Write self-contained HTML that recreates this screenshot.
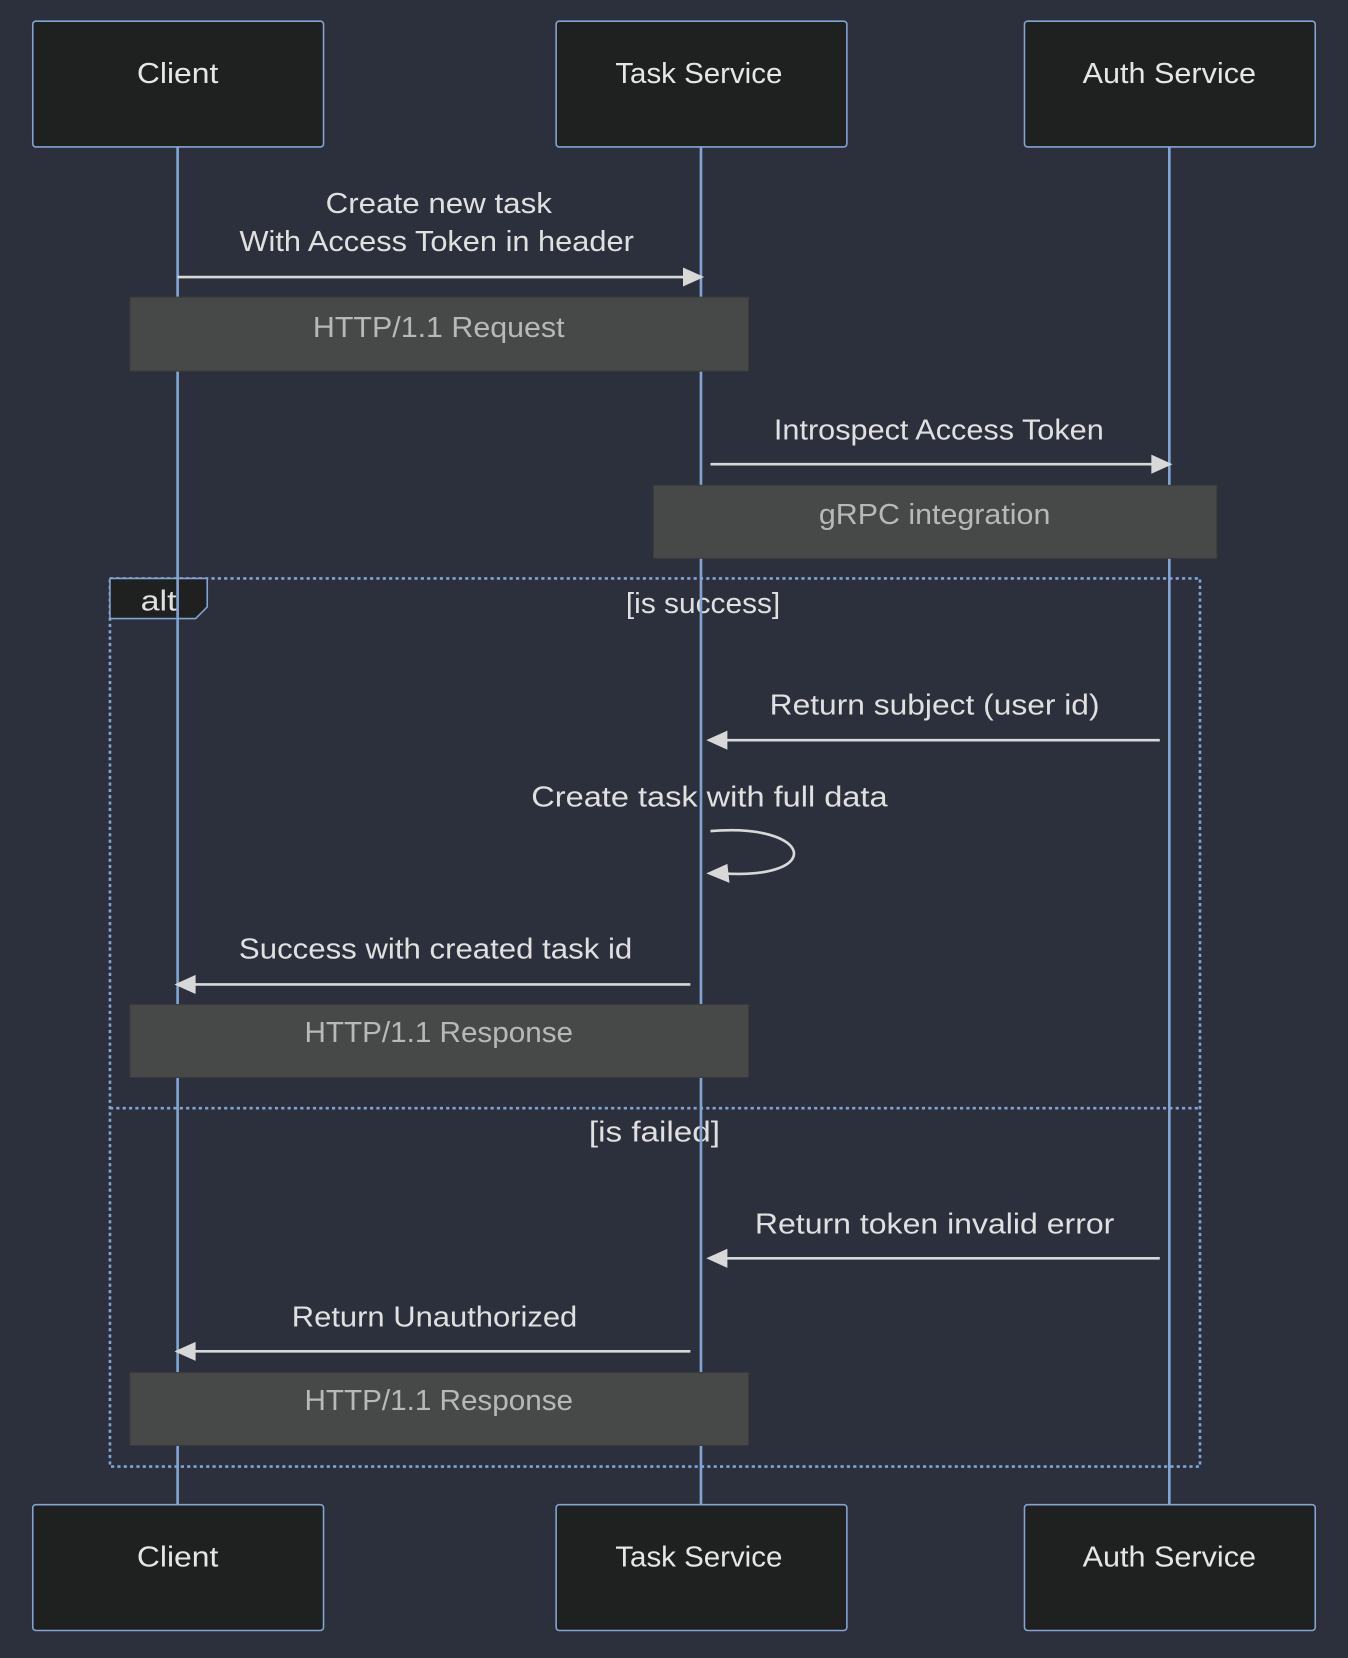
<!DOCTYPE html>
<html><head><meta charset="utf-8"><style>
html,body{margin:0;padding:0;background:#2c303c;}
svg{display:block;}
text{font-family:"Liberation Sans","DejaVu Sans",sans-serif;}
</style></head><body>
<svg width="1348" height="1658" viewBox="0 0 1275 1568" preserveAspectRatio="none" xmlns="http://www.w3.org/2000/svg">
<rect x="0" y="0" width="1275" height="1568" fill="#2c303c"/>
<g fill="#1f2020" stroke="#81a4d4" stroke-width="1.5">
<rect x="31" y="20" width="275" height="119" rx="3"/>
<rect x="526" y="20" width="275" height="119" rx="3"/>
<rect x="969" y="20" width="275" height="119" rx="3"/>
<rect x="31" y="1423" width="275" height="119" rx="3"/>
<rect x="526" y="1423" width="275" height="119" rx="3"/>
<rect x="969" y="1423" width="275" height="119" rx="3"/>
</g>
<g fill="#e6e6e6" font-size="27" text-anchor="middle" dominant-baseline="central" lengthAdjust="spacingAndGlyphs">
<text x="168" y="70" textLength="77" lengthAdjust="spacingAndGlyphs">Client</text><text x="661" y="70" textLength="158" lengthAdjust="spacingAndGlyphs">Task Service</text><text x="1106" y="70" textLength="164" lengthAdjust="spacingAndGlyphs">Auth Service</text>
<text x="168" y="1473" textLength="77" lengthAdjust="spacingAndGlyphs">Client</text><text x="661" y="1473" textLength="158" lengthAdjust="spacingAndGlyphs">Task Service</text><text x="1106" y="1473" textLength="164" lengthAdjust="spacingAndGlyphs">Auth Service</text>
</g>
<g fill="#e0e0e0" font-size="27" text-anchor="middle" dominant-baseline="central">
<text x="415" y="193" textLength="214" lengthAdjust="spacingAndGlyphs">Create new task</text>
<text x="413" y="229" textLength="373" lengthAdjust="spacingAndGlyphs">With Access Token in header</text>
<text x="888" y="407" textLength="312" lengthAdjust="spacingAndGlyphs">Introspect Access Token</text>
<text x="665" y="571" textLength="146" lengthAdjust="spacingAndGlyphs">[is success]</text>
<text x="884" y="667" textLength="312" lengthAdjust="spacingAndGlyphs">Return subject (user id)</text>
<text x="671" y="754" textLength="337" lengthAdjust="spacingAndGlyphs">Create task with full data</text>
<text x="412" y="898" textLength="372" lengthAdjust="spacingAndGlyphs">Success with created task id</text>
<text x="619" y="1071" textLength="124" lengthAdjust="spacingAndGlyphs">[is failed]</text>
<text x="884" y="1158" textLength="340" lengthAdjust="spacingAndGlyphs">Return token invalid error</text>
<text x="411" y="1246" textLength="270" lengthAdjust="spacingAndGlyphs">Return Unauthorized</text>
</g>
<g stroke="#81a4d4" stroke-width="2.5">
<line x1="168" y1="139" x2="168" y2="1423"/>
<line x1="663" y1="139" x2="663" y2="1423"/>
<line x1="1106" y1="139" x2="1106" y2="1423"/>
</g>
<g fill="#474948" stroke="#3a3b3a" stroke-width="1">
<rect x="123" y="281" width="585" height="70"/>
<rect x="618" y="459" width="533" height="69"/>
<rect x="123" y="950" width="585" height="69"/>
<rect x="123" y="1298" width="585" height="69"/>
</g>
<g fill="#b8b8b8" font-size="27" text-anchor="middle" dominant-baseline="central">
<text x="415" y="310" textLength="238" lengthAdjust="spacingAndGlyphs">HTTP/1.1 Request</text>
<text x="884" y="487" textLength="219" lengthAdjust="spacingAndGlyphs">gRPC integration</text>
<text x="415" y="977" textLength="254" lengthAdjust="spacingAndGlyphs">HTTP/1.1 Response</text>
<text x="415" y="1325" textLength="254" lengthAdjust="spacingAndGlyphs">HTTP/1.1 Response</text>
</g>
<g fill="none" stroke="#81a4d4" stroke-width="2.5" stroke-dasharray="3,3">
<rect x="104" y="547" width="1031" height="840"/>
<line x1="104" y1="1048" x2="1135" y2="1048"/>
</g>
<path d="M104,547 H196 V574 L185,585 H104 Z" fill="#1f2020" stroke="#81a4d4" stroke-width="1.5"/>
<line x1="168" y1="547" x2="168" y2="585" stroke="#81a4d4" stroke-width="2.5"/>
<text x="150" y="569" fill="#e0e0e0" font-size="27" text-anchor="middle" dominant-baseline="central" textLength="34" lengthAdjust="spacingAndGlyphs">alt</text>
<g stroke="#d8d8d8" stroke-width="2.5" fill="none">
<line x1="168" y1="262" x2="650" y2="262"/>
<line x1="672" y1="439" x2="1092" y2="439"/>
<line x1="1097" y1="700" x2="684" y2="700"/>
<path d="M672,786 C770,778 780,832 684,826"/>
<line x1="653" y1="931" x2="182" y2="931"/>
<line x1="1097" y1="1190" x2="684" y2="1190"/>
<line x1="653" y1="1278" x2="182" y2="1278"/>
</g>
<g fill="#d8d8d8">
<polygon points="666,262 646,253 646,271"/>
<polygon points="1109,439 1089,430 1089,448"/>
<polygon points="668,700 688,691 688,709"/>
<polygon points="668,826 688,817 690,835"/>
<polygon points="165,931 185,922 185,940"/>
<polygon points="668,1190 688,1181 688,1199"/>
<polygon points="165,1278 185,1269 185,1287"/>
</g>
</svg>
</body></html>
